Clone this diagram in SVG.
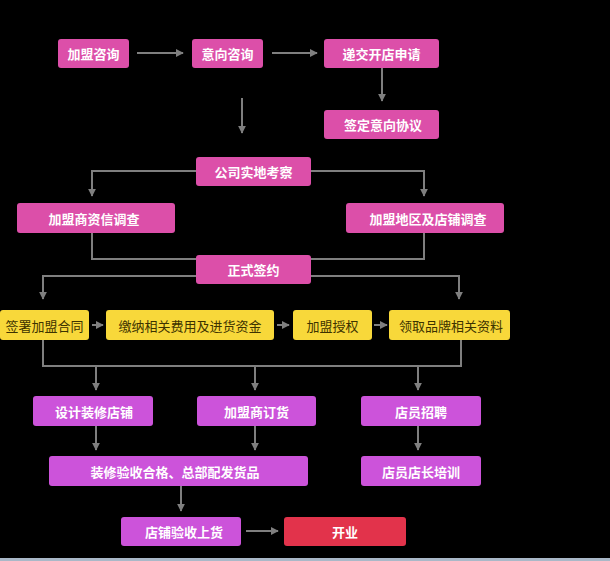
<svg xmlns="http://www.w3.org/2000/svg" width="610" height="561" viewBox="0 0 610 561">
<defs>
<style>
.pink{fill:#dc4fa9}
.purp{fill:#cc53da}
.yel{fill:#f8d83a}
.red{fill:#e2334b}
text{font-family:"Noto Sans CJK SC","Noto Sans",sans-serif;font-size:13px;font-weight:bold;text-anchor:middle;dominant-baseline:central;fill:#ffffff}
.dark{fill:#3d3300;font-weight:normal}
.ln{fill:none;stroke:#7f7f7f;stroke-width:2}
</style>
<marker id="ah" viewBox="0 0 10 10" refX="9" refY="5" markerWidth="4" markerHeight="4" orient="auto" markerUnits="strokeWidth">
<path d="M0,0 L10,5 L0,10 z" fill="#7f7f7f"/>
</marker>
</defs>
<rect width="610" height="561" fill="#000"/>
<rect x="0" y="558" width="610" height="3" fill="#a9b8c8"/>
<g id="connectors">
<path class="ln" d="M137,53 H183" marker-end="url(#ah)"/>
<path class="ln" d="M272,53 H317" marker-end="url(#ah)"/>
<path class="ln" d="M382,68 V101" marker-end="url(#ah)"/>
<path class="ln" d="M242,98 V133" marker-end="url(#ah)"/>
<path class="ln" d="M196,171 H92 V196" marker-end="url(#ah)"/>
<path class="ln" d="M311,171 H424 V196" marker-end="url(#ah)"/>
<path class="ln" d="M92,233 V259 H196"/>
<path class="ln" d="M424,233 V259 H311"/>
<path class="ln" d="M196,276 H43 V299" marker-end="url(#ah)"/>
<path class="ln" d="M311,276 H459 V299" marker-end="url(#ah)"/>
<path class="ln" d="M92,325 H103" marker-end="url(#ah)"/>
<path class="ln" d="M277,325 H289" marker-end="url(#ah)"/>
<path class="ln" d="M374,325 H387" marker-end="url(#ah)"/>
<path class="ln" d="M43,340 V366 H461 V340"/>
<path class="ln" d="M96,366 V390" marker-end="url(#ah)"/>
<path class="ln" d="M255,366 V390" marker-end="url(#ah)"/>
<path class="ln" d="M418,366 V390" marker-end="url(#ah)"/>
<path class="ln" d="M96,426 V450" marker-end="url(#ah)"/>
<path class="ln" d="M255,426 V450" marker-end="url(#ah)"/>
<path class="ln" d="M418,426 V450" marker-end="url(#ah)"/>
<path class="ln" d="M181,486 V511" marker-end="url(#ah)"/>
<path class="ln" d="M246,531 H278" marker-end="url(#ah)"/>
</g>
<g id="n1"><rect class="pink" x="58" y="39" width="71" height="29" rx="3"/><text x="93.5" y="53.5">加盟咨询</text></g>
<g id="n2"><rect class="pink" x="192" y="39" width="71" height="29" rx="3"/><text x="227.5" y="53.5">意向咨询</text></g>
<g id="n3"><rect class="pink" x="324" y="39" width="115" height="29" rx="3"/><text x="381.5" y="53.5">递交开店申请</text></g>
<g id="n4"><rect class="pink" x="324" y="110" width="115" height="29" rx="3"/><text x="383" y="124.5">签定意向协议</text></g>
<g id="n5"><rect class="pink" x="196" y="157" width="115" height="29" rx="3"/><text x="253.5" y="171.5">公司实地考察</text></g>
<g id="n6"><rect class="pink" x="17" y="203" width="158" height="30" rx="3"/><text x="94" y="218">加盟商资信调查</text></g>
<g id="n7"><rect class="pink" x="346" y="203" width="158" height="30" rx="3"/><text x="428" y="218">加盟地区及店铺调查</text></g>
<g id="n8"><rect class="pink" x="196" y="255" width="115" height="29" rx="3"/><text x="253.5" y="269.5">正式签约</text></g>
<g id="n9"><rect class="yel" x="0" y="310" width="89" height="30" rx="3"/><text class="dark" x="44.5" y="325">签署加盟合同</text></g>
<g id="n10"><rect class="yel" x="106" y="310" width="168" height="30" rx="3"/><text class="dark" x="190" y="325">缴纳相关费用及进货资金</text></g>
<g id="n11"><rect class="yel" x="293" y="310" width="79" height="30" rx="3"/><text class="dark" x="332.5" y="325">加盟授权</text></g>
<g id="n12"><rect class="yel" x="389" y="310" width="121" height="30" rx="3"/><text class="dark" x="451" y="325">领取品牌相关资料</text></g>
<g id="n13"><rect class="purp" x="33" y="396" width="120" height="30" rx="3"/><text x="94" y="411">设计装修店铺</text></g>
<g id="n14"><rect class="purp" x="197" y="396" width="119" height="30" rx="3"/><text x="256.5" y="411">加盟商订货</text></g>
<g id="n15"><rect class="purp" x="361" y="396" width="120" height="30" rx="3"/><text x="421" y="411">店员招聘</text></g>
<g id="n16"><rect class="purp" x="49" y="456" width="259" height="30" rx="3"/><text x="175" y="471">装修验收合格、总部配发货品</text></g>
<g id="n17"><rect class="purp" x="361" y="456" width="120" height="30" rx="3"/><text x="421" y="471">店员店长培训</text></g>
<g id="n18"><rect class="purp" x="121" y="517" width="120" height="29" rx="3"/><text x="184" y="531.5">店铺验收上货</text></g>
<g id="n19"><rect class="red" x="284" y="517" width="122" height="29" rx="3"/><text x="345" y="531.5">开业</text></g>
</svg>
